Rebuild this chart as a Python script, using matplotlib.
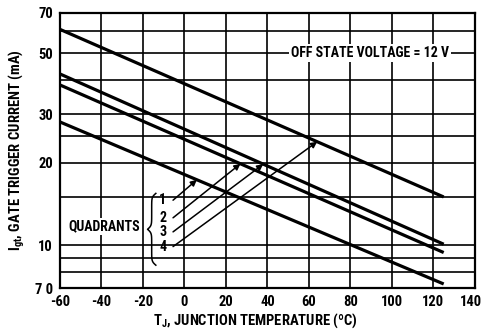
import numpy as np
import matplotlib.pyplot as plt
from matplotlib.ticker import FixedLocator, NullFormatter
from matplotlib.patches import FancyArrowPatch
from matplotlib.transforms import ScaledTranslation

plt.rcParams['font.family'] = ['Roboto Condensed', 'DejaVu Sans']
plt.rcParams['font.weight'] = 'bold'
plt.rcParams['mathtext.default'] = 'regular'
plt.rcParams['axes.unicode_minus'] = False

# data (straight lines on the log scale)
temp = [-60, 125]
quad1 = [28.1, 7.24]
quad2 = [38.3, 9.42]
quad3 = [42.0, 10.1]
quad4 = [61.0, 15.0]
arrow_x = [6, 27, 38, 64]
arrow_start_y = [14.6, 12.6, 11.2, 9.9]

xticks = [-60, -40, -20, 0, 20, 40, 60, 80, 100, 120, 140]
yticks = [7, 10, 20, 30, 50, 70]
ylabels = ['7 0', '10', '20', '30', '50', '70']
ygrid = [8, 9, 15, 25, 40, 60]

fig = plt.figure(figsize=(4.84, 3.32), dpi=100)
ax = fig.add_axes([0.124, 0.1325, 0.857, 0.8285])

ax.set_yscale('log')
ax.set_xlim(-60, 140)
ax.set_ylim(7, 70)

series = [quad1, quad2, quad3, quad4]
for s in series:
    ax.plot(temp, s, color='black', lw=2.3, solid_capstyle='butt', zorder=3)

ax.xaxis.set_major_locator(FixedLocator(xticks))
ax.yaxis.set_major_locator(FixedLocator(yticks))
ax.yaxis.set_minor_locator(FixedLocator(ygrid))
ax.yaxis.set_minor_formatter(NullFormatter())
ax.set_yticklabels(ylabels)
ax.tick_params(which='both', length=0, labelsize=10.5, pad=5)
ax.grid(True, which='both', axis='both', color='black', lw=1.2)
for sp in ax.spines.values():
    sp.set_linewidth(1.6)

# keep "140" inside the picture
last = ax.get_xticklabels()[-1]
last.set_transform(last.get_transform() + ScaledTranslation(-3 / 72, 0, fig.dpi_scale_trans))

ax.set_xlabel('T$_J$, JUNCTION TEMPERATURE (ºC)', fontsize=10.5, fontweight='bold')
ax.xaxis.set_label_coords(0.472, -0.085)
ax.set_ylabel('I$_{gt}$, GATE TRIGGER CURRENT (mA)', fontsize=10.5, labelpad=6, fontweight='bold')

ax.text(89.5, 50, 'OFF STATE VOLTAGE = 12 V', ha='center', va='center', fontsize=10,
        fontweight='bold', bbox=dict(facecolor='white', edgecolor='none', pad=1.5), zorder=4)

ax.text(-21.5, 11.7, 'QUADRANTS', ha='right', va='center', fontsize=10, fontweight='bold',
        bbox=dict(facecolor='white', edgecolor='none', pad=1), zorder=4)

# curly brace in axes fraction
t = np.linspace(0, 0.5, 60)
beta = 40
half = 1 / (1 + np.exp(-beta * (t - t[0]))) + 1 / (1 + np.exp(-beta * (t - t[-1])))
off = np.concatenate((half, half[-2::-1])) - half[0]
bx = 0.231 - 0.02 * off
by = np.linspace(0.344, 0.083, len(bx))
ax.plot(bx, by, color='black', lw=1.1, transform=ax.transAxes, zorder=4)

for i, s in enumerate(series):
    yh = 10 ** np.interp(arrow_x[i], temp, np.log10(s))
    ax.text(-10.5, arrow_start_y[i], str(i + 1), ha='center', va='center', fontsize=10,
            fontweight='bold', zorder=4)
    arr = FancyArrowPatch((-5.5, arrow_start_y[i]), (arrow_x[i], yh), arrowstyle='-|>',
                          color='black', lw=1.1, mutation_scale=9, shrinkA=0, shrinkB=0,
                          zorder=5)
    ax.add_patch(arr)

fig.savefig('out.png', dpi=100)
